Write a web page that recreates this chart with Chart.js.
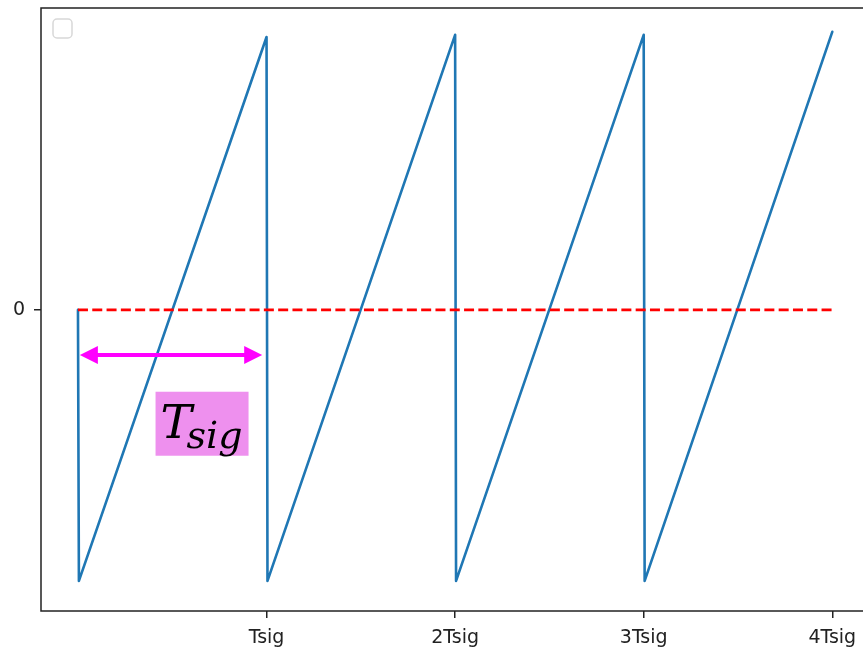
<!DOCTYPE html>
<html>
<head>
<meta charset="utf-8">
<script src="https://cdn.jsdelivr.net/npm/chart.js@4.4.1/dist/chart.umd.min.js"></script>
<style>
  html, body { margin: 0; padding: 0; background: #fff; overflow: hidden; }
  #wrap { width: 900px; height: 653px; }
</style>
</head>
<body>
<div id="wrap"><canvas id="chart" width="900" height="653"></canvas></div>
<script>
// sawtooth corners, x in units of Tsig
const sawX = [0, 0.005, 1, 1.005, 2, 2.005, 3, 3.005, 4];
const sawY = [0, -1, 1.007, -1, 1.015, -1, 1.015, -1, 1.026];

// zero reference line
const zeroX = [0, 4];
const zeroY = [0, 0];

const xTicks = [1, 2, 3, 4];
const xTickLabels = ['Tsig', '2Tsig', '3Tsig', '4Tsig'];
const yTicks = [0];
const yTickLabels = ['0'];

// annotation (data coords)
const arrowFrom = [0.01, -0.166];
const arrowTo = [0.977, -0.166];
const labelAt = [0.658, -0.42];

const toPoints = (xs, ys) => xs.map((v, i) => ({ x: v, y: ys[i] }));

const decorations = {
  id: 'decorations',
  afterDatasetsDraw(chart) {
    const { ctx, chartArea: a, scales: { x, y } } = chart;
    ctx.save();

    // double-headed arrow
    const x1 = x.getPixelForValue(arrowFrom[0]);
    const x2 = x.getPixelForValue(arrowTo[0]);
    const yy = y.getPixelForValue(arrowFrom[1]);
    const head = 18, half = 9;
    ctx.strokeStyle = '#ff00ff';
    ctx.fillStyle = '#ff00ff';
    ctx.lineWidth = 4;
    ctx.beginPath();
    ctx.moveTo(x1 + head - 2, yy);
    ctx.lineTo(x2 - head + 2, yy);
    ctx.stroke();
    ctx.beginPath();
    ctx.moveTo(x1, yy);
    ctx.lineTo(x1 + head, yy - half);
    ctx.lineTo(x1 + head, yy + half);
    ctx.closePath();
    ctx.fill();
    ctx.beginPath();
    ctx.moveTo(x2, yy);
    ctx.lineTo(x2 - head, yy - half);
    ctx.lineTo(x2 - head, yy + half);
    ctx.closePath();
    ctx.fill();

    // T_sig label box
    const cx = x.getPixelForValue(labelAt[0]);
    const cy = y.getPixelForValue(labelAt[1]);
    const bw = 93, bh = 64;
    const bl = cx - bw / 2, bt = cy - bh / 2;
    ctx.fillStyle = '#ee90ee';
    ctx.fillRect(bl, bt, bw, bh);
    ctx.fillStyle = '#000';
    ctx.textBaseline = 'alphabetic';
    ctx.textAlign = 'left';
    ctx.font = 'italic 47px "DejaVu Serif"';
    ctx.fillText('T', bl + 5, cy + 14);
    ctx.font = 'italic 38px "DejaVu Serif"';
    ctx.fillText('sig', bl + 31, cy + 24);

    // frame (spines)
    ctx.strokeStyle = '#222';
    ctx.lineWidth = 1.5;
    ctx.strokeRect(a.left, a.top, a.right - a.left, a.bottom - a.top);

    // empty legend box
    ctx.strokeStyle = '#d8d8d8';
    ctx.fillStyle = 'rgba(255,255,255,0.8)';
    ctx.lineWidth = 1.5;
    ctx.beginPath();
    ctx.roundRect(a.left + 12, a.top + 11, 19, 19, 4);
    ctx.fill();
    ctx.stroke();

    ctx.restore();
  }
};

new Chart(document.getElementById('chart'), {
  type: 'scatter',
  data: {
    datasets: [
      {
        data: toPoints(zeroX, zeroY),
        showLine: true,
        borderColor: '#ff0000',
        borderWidth: 2.6,
        borderDash: [10, 4.3],
        pointRadius: 0,
        order: 0
      },
      {
        data: toPoints(sawX, sawY),
        showLine: true,
        borderColor: '#1f77b4',
        borderWidth: 2.6,
        pointRadius: 0,
        borderJoinStyle: 'round',
        borderCapStyle: 'round',
        order: 1
      }
    ]
  },
  options: {
    responsive: false,
    animation: false,
    layout: { padding: { top: 8, right: 30, left: 0, bottom: 0 } },
    plugins: {
      legend: { display: false },
      tooltip: { enabled: false }
    },
    scales: {
      x: {
        type: 'linear',
        min: -0.196,
        max: 4.2,
        afterBuildTicks: (scale) => { scale.ticks = xTicks.map(v => ({ value: v })); },
        afterFit: (scale) => { scale.height = 42; scale.paddingLeft = 0; scale.paddingRight = 0; },
        border: { display: false },
        grid: { drawOnChartArea: false, drawTicks: true, tickLength: 7, color: '#222', lineWidth: 1.5 },
        ticks: {
          autoSkip: false,
          maxRotation: 0,
          padding: 9,
          color: '#222',
          font: { family: 'DejaVu Sans', size: 19 },
          callback: (v) => xTickLabels[xTicks.indexOf(v)]
        }
      },
      y: {
        type: 'linear',
        min: -1.111,
        max: 1.114,
        afterBuildTicks: (scale) => { scale.ticks = yTicks.map(v => ({ value: v })); },
        afterFit: (scale) => { scale.width = 41; scale.paddingTop = 0; scale.paddingBottom = 0; },
        border: { display: false },
        grid: { drawOnChartArea: false, drawTicks: true, tickLength: 7, color: '#222', lineWidth: 1.5 },
        ticks: {
          padding: 9,
          color: '#222',
          font: { family: 'DejaVu Sans', size: 19 },
          callback: (v) => yTickLabels[yTicks.indexOf(v)]
        }
      }
    }
  },
  plugins: [decorations]
});
</script>
</body>
</html>
